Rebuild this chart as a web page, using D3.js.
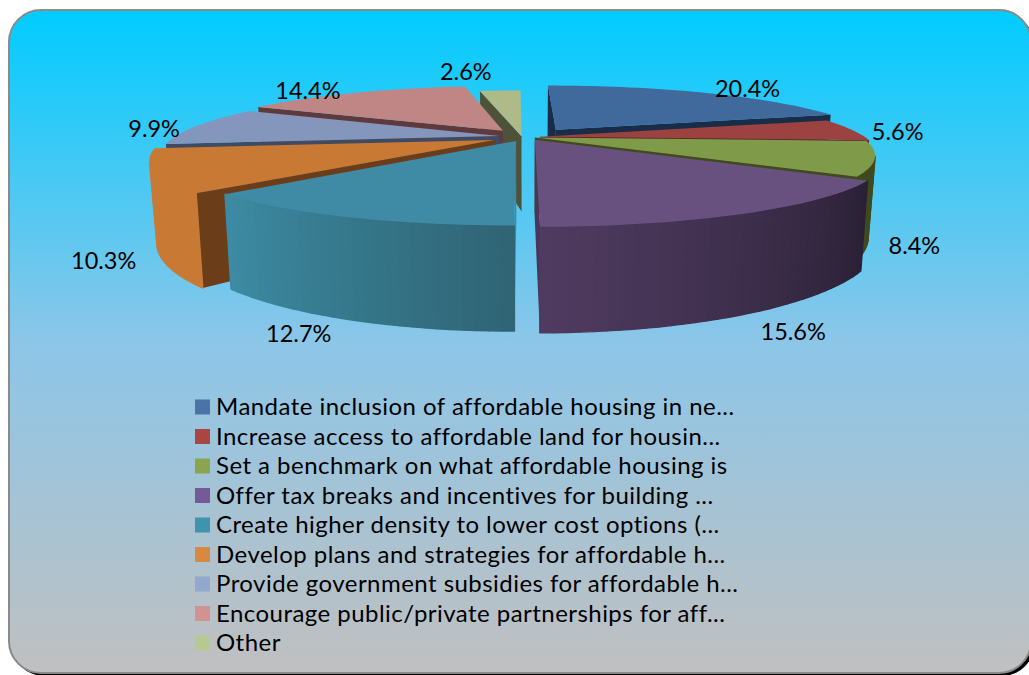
<!DOCTYPE html>
<html><head><meta charset="utf-8">
<script src="https://cdn.jsdelivr.net/npm/d3@7/dist/d3.min.js"></script>
<style>html,body{margin:0;padding:0;background:#fff;overflow:hidden}svg{display:block}</style>
</head><body><svg id="c" width="1029" height="675"></svg>
<script>
const categories=["Mandate inclusion of affordable housing in ne...","Increase access to affordable land for housin...","Set a benchmark on what affordable housing is","Offer tax breaks and incentives for building ...","Create higher density to lower cost options (...","Develop plans and strategies for affordable h...","Provide government subsidies for affordable h...","Encourage public/private partnerships for aff...","Other"];
const values=[20.4,5.6,8.4,15.6,12.7,10.3,9.9,14.4,2.6];
const labels=["20.4%","5.6%","8.4%","15.6%","12.7%","10.3%","9.9%","14.4%","2.6%"];
const legendColors=["#4a74a8","#a94542","#8aa54e","#745a96","#3f94ad","#d98840","#92a8cf","#d09391","#b7c990"];
const topColors=["#416a9c","#9c4240","#7f9a48","#69517f","#3f8aa5","#c87a35","#8496bb","#c08585","#aebb88"];
const wallStart=["#1a2d48","#5a2422","#3f4a1e","#2b2136","#2f6575","#c87a35","#3f4a63","#5e3a3c","#4d5238"];
const wallEnd=["#1a2d48","#5a2422","#3f4a1e","#4f3b60","#3d8ba3","#c87a35","#3f4a63","#5e3a3c","#4d5238"];
const radialColors=["#1a2d48","#5a2422","#3f4a1e","#4a3658","#3d8ba3","#6b3d18","#3f4a63","#5e3a3c","#4d5238"];
const explode=[.155,.04,.025,.05,.07,.11,.087,.13,.012];
const radiusScale=[.99,1,1.004,1.022,.99,1,1,1,.97];
const lateral=[0,0,0,0,-.006,0,0,0,-.016];
const labelNudge=[[43,-4],[46,2],[41,88],[50,121],[-46,116],[-50,90],[-43,3],[-47,-2],[-38,-18]];

const W=1029,H=675,CX=527,CY=137,A=325,K=60,P=.27,DEPTH=75.5,BOTTOM=.98,ROT=-.008;
const svg=d3.select("#c");
const defs=svg.append("defs");
const g=defs.append("linearGradient").attr("id","bg").attr("x1",0).attr("x2",0).attr("y1",0).attr("y2",1);
g.append("stop").attr("offset",0).attr("stop-color","#00ccff");
g.append("stop").attr("offset",.5).attr("stop-color","#8cc6e8");
g.append("stop").attr("offset",1).attr("stop-color","#c0c0c0");
svg.append("rect").attr("x",12).attr("y",13).attr("width",1022).attr("height",663).attr("rx",32).attr("fill","#000");
svg.append("rect").attr("x",9).attr("y",10).attr("width",1022).attr("height",663).attr("rx",32).attr("fill","url(#bg)").attr("stroke","#8a8a8a").attr("stroke-width",2);

const arcs=d3.pie().sort(null).value(d=>d).startAngle(ROT).endAngle(ROT+2*Math.PI)(values);
const screenX=d3.scaleLinear().domain([0,1]).range([CX,CX+A]);
const screenY=d3.scaleLinear().domain([0,1]).range([CY,CY+K]);
function proj(wx,wy,low){
  const s=1/(1-P*wy);
  const x=screenX(wx*s*(low?BOTTOM:1));
  const y=screenY(wy*s)+(low?DEPTH*s:0);
  return [x,y];
}
function area(q){
  let s=0;
  q.forEach((p,i)=>{const n=q[(i+1)%q.length];s+=p[0]*n[1]-n[0]*p[1];});
  return s;
}
const line=d3.line().curve(d3.curveLinear);
const layer=svg.append("g");
const order=d3.range(values.length).sort((a,b)=>{
  const f=i=>-Math.cos((arcs[i].startAngle+arcs[i].endAngle)/2);
  return f(a)-f(b);
});
order.forEach(i=>{
  const a=arcs[i],m=(a.startAngle+a.endAngle)/2,e=explode[i],R=radiusScale[i];
  const ox=Math.sin(m)*e+lateral[i],oy=-Math.cos(m)*e;
  const pt=(t,r,low)=>proj(ox+Math.sin(t)*r*R,oy-Math.cos(t)*r*R,low);
  const steps=Math.max(4,Math.ceil((a.endAngle-a.startAngle)/0.03));
  const ts=d3.range(steps+1).map(j=>a.startAngle+(a.endAngle-a.startAngle)*j/steps);
  const col=d3.interpolateRgb(wallStart[i],wallEnd[i]);
  // radial walls, only the one turned to the viewer
  [[a.startAngle,-1],[a.endAngle,1]].forEach(([t,sign])=>{
    const q=[pt(0,0,false),pt(t,1,false),pt(t,1,true),pt(0,0,true)];
    if(area(q)*sign>0) layer.append("path").attr("d",line(q)+"Z").attr("fill",radialColors[i]);
  });
  // outer wall, only front-facing segments
  for(let j=0;j<steps;j++){
    const c=col(j/(steps-1));
    const q=[pt(ts[j],1,false),pt(ts[j+1],1,false),pt(ts[j+1],1,true),pt(ts[j],1,true)];
    if(area(q)<0) layer.append("path").attr("d",line(q)+"Z").attr("fill",c).attr("stroke",c).attr("stroke-width",1.4).attr("stroke-linejoin","round");
  }
  layer.append("path").attr("d",line([pt(0,0,false)].concat(ts.map(t=>pt(t,1,false))))+"Z").attr("fill",topColors[i]);
});
// labels
const font="Lato, Carlito, sans-serif";
arcs.forEach((a,i)=>{
  const m=(a.startAngle+a.endAngle)/2,e=explode[i];
  const p=proj(Math.sin(m)*(1+e),-Math.cos(m)*(1+e),false);
  svg.append("text").attr("x",p[0]+labelNudge[i][0]).attr("y",p[1]+labelNudge[i][1]).attr("dy","0.35em")
    .attr("text-anchor","middle").attr("font-family",font).attr("font-size",23.5).attr("fill","#000").text(labels[i]);
});
// legend
const legendY=d3.scaleLinear().domain([0,8]).range([407,643]);
categories.forEach((c,i)=>{
  svg.append("rect").attr("x",195).attr("y",legendY(i)-7.5).attr("width",15).attr("height",15).attr("fill",legendColors[i]);
  svg.append("text").attr("x",216).attr("y",legendY(i)).attr("dy","0.35em").attr("font-family",font).attr("font-size",24).attr("letter-spacing",.46).attr("fill","#000").text(c);
});
</script></body></html>
